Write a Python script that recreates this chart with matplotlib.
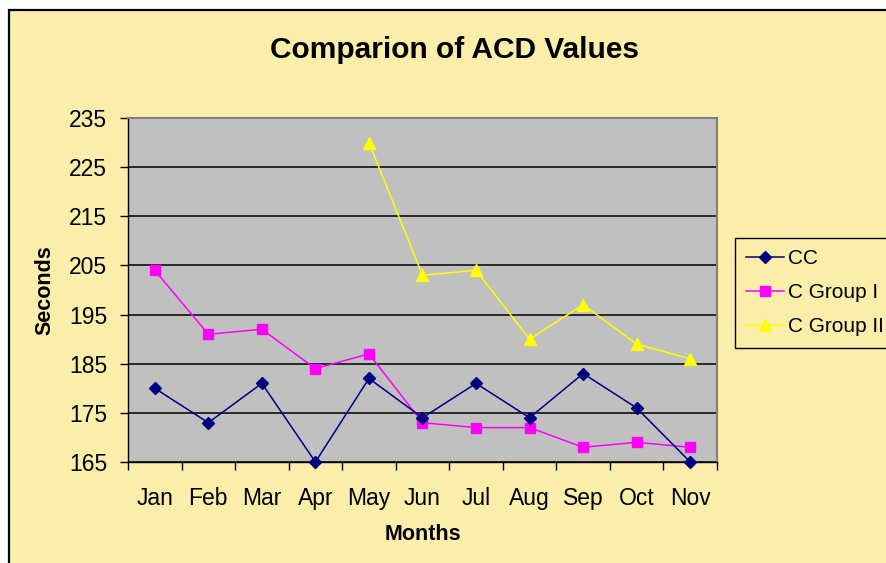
import matplotlib
matplotlib.use("Agg")
import matplotlib.pyplot as plt
from matplotlib.patches import Rectangle

plt.rcParams['font.family'] = ['Liberation Sans', 'DejaVu Sans']

# ── Data ───────────────────────────────────────────
months = ["Jan", "Feb", "Mar", "Apr", "May", "Jun", "Jul", "Aug", "Sep", "Oct", "Nov"]
cc = [180, 173, 181, 165, 182, 174, 181, 174, 183, 176, 165]
group_1 = [204, 191, 192, 184, 187, 173, 172, 172, 168, 169, 168]
group_2_months = ["May", "Jun", "Jul", "Aug", "Sep", "Oct", "Nov"]
group_2 = [230, 203, 204, 190, 197, 189, 186]
y_ticks = [165, 175, 185, 195, 205, 215, 225, 235]

BG = "#FBEEAA"
PLOT_BG = "#C0C0C0"

W, H = 887, 563
fig = plt.figure(figsize=(W / 100, H / 100), dpi=100, facecolor="white")

# yellow chart area with black border (left/top visible)
fig.add_artist(Rectangle((9 / W, -0.05), 1.1, (H - 10) / H + 0.05,
                         transform=fig.transFigure, facecolor=BG,
                         edgecolor="black", linewidth=1.6, zorder=-5))

ax = fig.add_axes([128 / W, (H - 462) / H, (717 - 128) / W, (462 - 118) / H])
ax.set_zorder(2)
ax.set_facecolor(PLOT_BG)

x = [i + 0.5 for i in range(len(months))]
x2 = [months.index(m) + 0.5 for m in group_2_months]

ax.plot(x, cc, color="#000080", marker="D", markersize=6.5, linewidth=1.1,
        label="CC", zorder=4, clip_on=False)
ax.plot(x, group_1, color="#FF00FF", marker="s", markersize=7.5, linewidth=1.1,
        label="C Group I", zorder=3, clip_on=False)
ax.plot(x2, group_2, color="#FFFF00", marker="^", markersize=8.5, linewidth=1.1,
        label="C Group II", zorder=3, clip_on=False)

ax.set_xlim(0, len(months))
ax.set_ylim(165, 235)
ax.set_yticks(y_ticks)
ax.grid(axis="y", color="black", linewidth=1.1, zorder=1)
ax.set_axisbelow(True)

# x ticks at category boundaries, labels in the middle
ax.set_xticks(range(len(months) + 1))
ax.set_xticklabels([])
ax.set_xticks(x, minor=True)
ax.set_xticklabels(months, minor=True)
ax.tick_params(axis="x", which="minor", length=0, pad=18, labelsize=16.5)
ax.tick_params(axis="x", which="major", length=6, width=1, direction="out")
ax.tick_params(axis="y", length=6, width=1, pad=9, labelsize=16.5)

for side in ["top", "right"]:
    ax.spines[side].set_color("#808080")
    ax.spines[side].set_linewidth(1.5)
for side in ["left", "bottom"]:
    ax.spines[side].set_color("black")
    ax.spines[side].set_linewidth(1.0)

fig.text(455 / W, (H - 50) / H, "Comparion of ACD Values", ha="center", va="center",
         fontsize=21.5, fontweight="bold")
fig.text(45 / W, (H - 290) / H, "Seconds", ha="center", va="center", rotation=90,
         fontsize=15.5, fontweight="bold")
fig.text(423 / W, (H - 535) / H, "Months", ha="center", va="center",
         fontsize=15.5, fontweight="bold")

leg = fig.legend(loc="upper left", bbox_to_anchor=(735 / W, (H - 238) / H),
                 borderaxespad=0, fontsize=15, frameon=True, fancybox=False,
                 framealpha=1, facecolor=BG, edgecolor="black", handlelength=1.8,
                 labelspacing=0.72, borderpad=0.55, handletextpad=0.2)
leg.get_frame().set_linewidth(1.0)

fig.savefig("out.png", dpi=100, facecolor="white")
